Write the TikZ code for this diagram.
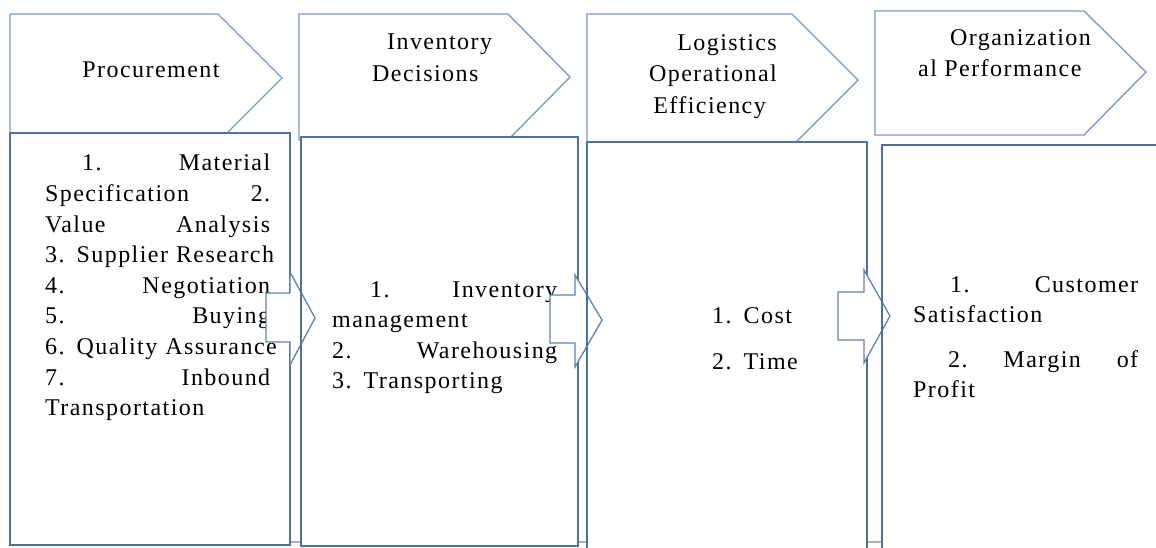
\documentclass[tikz,border=0pt]{standalone}
\usepackage{fontspec}
\setmainfont{Liberation Serif}[LetterSpace=6]
\definecolor{pentblue}{RGB}{128,156,192}
\definecolor{rectblue}{RGB}{79,113,158}
\definecolor{arrblue}{RGB}{96,130,172}
\newcommand{\jl}[3]{\makebox[#1][l]{#2\hfill #3}}
\begin{document}
\begin{tikzpicture}[x=1pt,y=-1pt,
  pent/.style={draw=pentblue,line width=1.4pt,fill=white,line join=miter},
  boxfill/.style={fill=white},
  boxline/.style={draw=rectblue,line width=1.5pt},
  blockarrow/.style={draw=arrblue,line width=1.3pt,fill=white,line join=miter},
  body/.style={font=\fontsize{24}{30.6}\selectfont,inner sep=0pt,align=left,text width=225pt,anchor=north west},
  head/.style={font=\fontsize{24}{31.5}\selectfont,inner sep=0pt}]
\useasboundingbox (0,0) rectangle (1156,547);
\clip (0,0) rectangle (1156,547);
% faint table line at the bottom
\draw[gray!60,line width=1.2pt] (290,542) -- (1156,542);
% header pentagons
\draw[pent] (10,14) -- (218,14) -- (282,78) -- (218,142) -- (10,142) -- cycle;
\draw[pent] (299,14) -- (508,14) -- (570,77) -- (508,140) -- (299,140) -- cycle;
\draw[pent] (587,14) -- (792,14) -- (858,80) -- (792,146) -- (587,146) -- cycle;
\draw[pent] (875,11) -- (1084,11) -- (1146,72) -- (1084,135) -- (875,135) -- cycle;
\node[head] (h1) at (151,70) {Procurement};
\node[head,align=left,anchor=north west] (h2) at (372,34) {\hspace*{15pt}Inventory\\Decisions};
\node[head,align=right,anchor=north east] (h3) at (777,34) {Logistics\\Operational\\Efficiency\hspace*{11pt}};
\node[head,align=left,anchor=north west] (h4) at (918,29) {\hspace*{32pt}Organization\\al Performance};
% body boxes (fill)
\fill[boxfill] (10,133) rectangle (290,545);
\fill[boxfill] (301,137) rectangle (578,546);
\fill[boxfill] (587,142) rectangle (867,552);
\fill[boxfill] (882,145) rectangle (1165,552);
% body texts
\node[body] (t1) at (45,154) {\hspace*{37pt}\jl{188pt}{1.}{Material}\\
\jl{225pt}{Specification}{2.}\\
\jl{225pt}{Value}{Analysis}\\
\makebox[225pt][l]{3. Supplier Research}\\
\jl{225pt}{4.}{Negotiation}\\
\jl{225pt}{5.}{Buying}\\
\makebox[225pt][l]{6. Quality Assurance}\\
\jl{225pt}{7.}{Inbound}\\
Transportation};
\node[body] (t2) at (332,281) {\hspace*{38pt}\jl{187pt}{1.}{Inventory}\\
management\\
\jl{225pt}{2.}{Warehousing}\\
3. Transporting};
\node[body,text width=120pt] (t3) at (712,307) {1. Cost\\[16pt]2. Time};
\node[body] (t4) at (913,276) {\hspace*{37pt}\jl{188pt}{1.}{Customer}\\
Satisfaction\\[14pt]
\hspace*{35pt}\makebox[190pt][l]{2.\hfill Margin\hfill of}\\
Profit};
% box outlines and block arrows, in stacking order
\draw[boxline] (10,133) rectangle (290,545);
\draw[blockarrow] (266,293) -- (290,293) -- (290,272) -- (315,318) -- (290,365) -- (290,342) -- (266,342) -- cycle;
\draw[boxline] (301,137) rectangle (578,546);
\draw[blockarrow] (550,295) -- (575,295) -- (575,275) -- (602,320) -- (575,367) -- (575,343) -- (550,343) -- cycle;
\draw[boxline] (587,142) rectangle (867,552);
\draw[blockarrow] (838,292) -- (864,292) -- (864,270) -- (890,316) -- (864,363) -- (864,340) -- (838,340) -- cycle;
\draw[boxline] (882,145) rectangle (1165,552);
\end{tikzpicture}
\end{document}
